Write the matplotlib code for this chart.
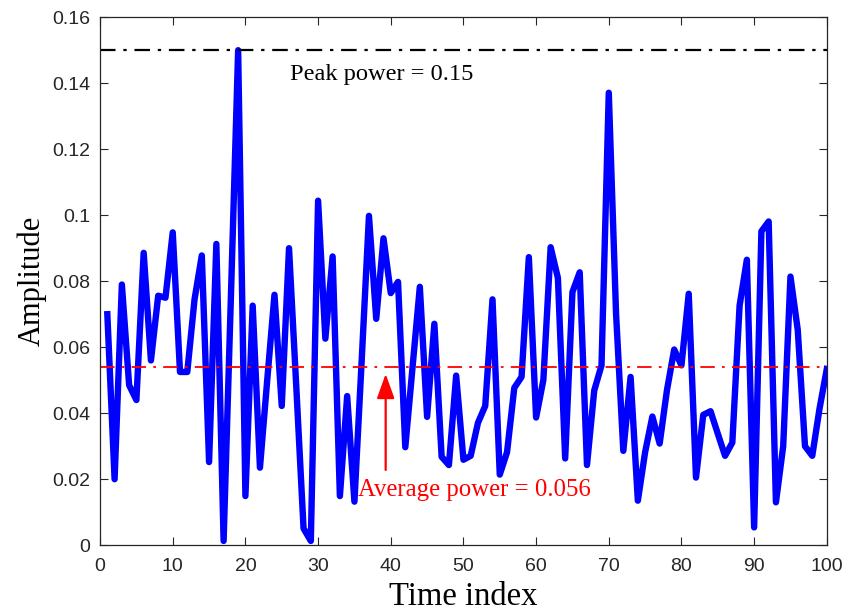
import matplotlib.pyplot as plt

# Amplitude of each sample
time_index = list(range(1, 101))
amplitude = [
    0.070, 0.020, 0.079, 0.0485, 0.044, 0.0886, 0.056, 0.0756, 0.075, 0.0948,
    0.0525, 0.0525, 0.0745, 0.0878, 0.0252, 0.0913, 0.0013, 0.075, 0.150, 0.0149,
    0.0726, 0.0235, 0.050, 0.0759, 0.0422, 0.090, 0.048, 0.0051, 0.0013, 0.1044,
    0.0626, 0.0875, 0.0149, 0.0452, 0.0132, 0.056, 0.0998, 0.0686, 0.093, 0.0764,
    0.0798, 0.0297, 0.054, 0.0783, 0.0389, 0.0671, 0.0268, 0.0243, 0.0514, 0.0259,
    0.0271, 0.0371, 0.0422, 0.0745, 0.0214, 0.0282, 0.0477, 0.051, 0.0873, 0.0387,
    0.0501, 0.0903, 0.081, 0.0263, 0.0767, 0.0827, 0.0243, 0.0469, 0.0545, 0.1371,
    0.0702, 0.0286, 0.051, 0.0135, 0.0282, 0.039, 0.0308, 0.0469, 0.0593, 0.0545,
    0.0762, 0.0205, 0.0395, 0.0406, 0.0338, 0.0271, 0.0311, 0.0726, 0.0865, 0.0054,
    0.0951, 0.0981, 0.013, 0.030, 0.0814, 0.0653, 0.030, 0.0271, 0.0414, 0.0534,
]

peak_level = 0.15
avg_level = 0.054
peak_label = 'Peak power = 0.15'
avg_label = 'Average power = 0.056'

x_ticks = [0, 10, 20, 30, 40, 50, 60, 70, 80, 90, 100]
y_ticks = [0, 0.02, 0.04, 0.06, 0.08, 0.1, 0.12, 0.14, 0.16]
y_tick_labels = ['0', '0.02', '0.04', '0.06', '0.08', '0.1', '0.12', '0.14', '0.16']

serif = 'Liberation Serif'
axis_grey = '#262626'

fig = plt.figure(figsize=(8.48, 6.14), dpi=100)
ax = fig.add_axes([0.118, 0.112, 0.857, 0.860])

ax.plot(time_index, amplitude, color='#0000ff', linewidth=4.6, solid_joinstyle='round')

ax.axhline(peak_level, color='black', linewidth=1.6, dashes=(7, 3.5, 1.5, 3.5))
ax.axhline(avg_level, color='red', linewidth=1.3, dashes=(8, 4, 1.5, 4))

ax.text(26.1, 0.1427, peak_label, fontfamily=serif, fontsize=17.6,
        color='black', ha='left', va='center')
ax.text(35.5, 0.0168, avg_label, fontfamily=serif, fontsize=17.8,
        color='red', ha='left', va='center')
ax.annotate('', xy=(39.3, 0.0519), xytext=(39.3, 0.0228),
            arrowprops=dict(arrowstyle='-|>,head_length=0.75,head_width=0.27',
                            color='red', lw=1.6, mutation_scale=20,
                            shrinkA=0, shrinkB=0))

ax.set_xlim(0, 100)
ax.set_ylim(0, 0.16)
ax.set_xticks(x_ticks)
ax.set_yticks(y_ticks)
ax.set_yticklabels(y_tick_labels)
ax.tick_params(direction='in', top=True, right=True, length=6, width=0.8,
               colors=axis_grey, labelsize=14)
ax.tick_params(axis='x', pad=9)
ax.tick_params(axis='y', pad=7)
for label in ax.get_xticklabels() + ax.get_yticklabels():
    label.set_fontfamily('Liberation Sans')
for spine in ax.spines.values():
    spine.set_color(axis_grey)
    spine.set_linewidth(0.9)

ax.set_xlabel('Time index', fontfamily=serif, fontsize=23.5, labelpad=5)
ax.set_ylabel('Amplitude', fontfamily=serif, fontsize=22, labelpad=4)

fig.savefig('out.png', dpi=100)
